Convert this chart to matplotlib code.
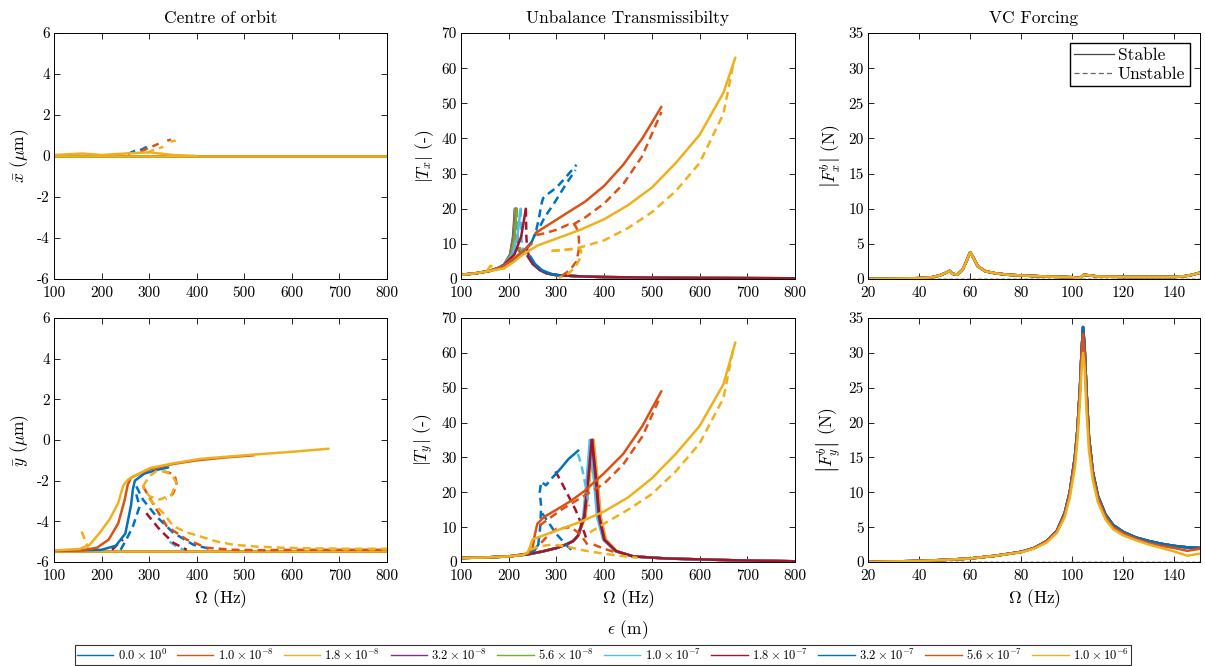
import matplotlib
matplotlib.use('Agg')
import matplotlib.pyplot as plt
from matplotlib.lines import Line2D

plt.rcParams['font.family'] = 'serif'
plt.rcParams['font.serif'] = ['cmr10']
plt.rcParams['mathtext.fontset'] = 'cm'
plt.rcParams['axes.unicode_minus'] = False

# unbalance eccentricity values and the MATLAB default colour order
eps_labels = [r'$0.0\times10^{0}$', r'$1.0\times10^{-8}$', r'$1.8\times10^{-8}$',
              r'$3.2\times10^{-8}$', r'$5.6\times10^{-8}$', r'$1.0\times10^{-7}$',
              r'$1.8\times10^{-7}$', r'$3.2\times10^{-7}$', r'$5.6\times10^{-7}$',
              r'$1.0\times10^{-6}$']
colours = ['#0072BD', '#D95319', '#EDB120', '#7E2F8E', '#77AC30',
           '#4DBEEE', '#A2142F', '#0072BD', '#D95319', '#EDB120']

# ---- centre of orbit, x ----
xb_base_f = [100, 800]
xb_base_v = [0.0, 0.0]
xb9_s_f = [100, 160, 200, 250, 300, 350, 400]
xb9_s_v = [0.05, 0.12, 0.05, 0.12, 0.18, 0.05, 0.0]
xb7_d_f = [255, 270, 285, 295]
xb7_d_v = [0.1, 0.25, 0.32, 0.45]
xb8_d_f = [282, 290, 305, 320]
xb8_d_v = [0.2, 0.3, 0.45, 0.6]
xb8_d2_f = [338, 346]
xb8_d2_v = [0.75, 0.8]
xb9_d_f = [295, 310, 330]
xb9_d_v = [0.15, 0.3, 0.45]
xb9_d2_f = [345, 356]
xb9_d2_v = [0.7, 0.75]

# ---- centre of orbit, y ----
yb_base_f = [100, 800]
yb_base_v = [-5.45, -5.45]
yb9_s_f = [100, 154, 175, 196, 217, 235, 245, 250, 256, 266, 302, 350, 407, 502, 600, 677]
yb9_s_v = [-5.43, -5.36, -5.15, -4.57, -3.9, -3.1, -2.28, -2.1, -1.95, -1.8, -1.38,
           -1.15, -0.93, -0.75, -0.58, -0.43]
yb8_s_f = [100, 160, 190, 215, 235, 248, 255, 262, 300, 350, 400, 460, 520]
yb8_s_v = [-5.45, -5.42, -5.3, -4.9, -4.1, -3.0, -2.2, -1.85, -1.45, -1.18, -1.0, -0.86, -0.75]
yb7_s_f = [100, 200, 230, 250, 262, 266, 270, 290, 320, 340]
yb7_s_v = [-5.45, -5.4, -5.2, -4.6, -3.2, -2.4, -2.0, -1.65, -1.45, -1.35]
yb9_d_spike_f = [158, 165, 172]
yb9_d_spike_v = [-4.5, -4.9, -5.3]
yb9_d_loop_f = [287, 300, 315, 335, 350, 357, 347, 322, 301, 291, 287]
yb9_d_loop_v = [-2.28, -1.79, -1.54, -1.55, -1.79, -2.11, -2.69, -2.93, -2.77, -2.5, -2.28]
yb8_d_arc_f = [330, 344, 355, 358, 350, 335]
yb8_d_arc_v = [-1.55, -1.62, -1.85, -2.2, -2.65, -2.9]
yb9_d_f = [300, 330, 351, 380, 407, 440, 477, 530, 582, 650, 720, 800]
yb9_d_v = [-2.9, -3.6, -4.24, -4.55, -4.74, -4.98, -5.15, -5.25, -5.3, -5.33, -5.35, -5.35]
yb8_d_f = [287, 310, 337, 379, 421, 477, 540, 600, 800]
yb8_d_v = [-2.28, -3.2, -4.24, -4.9, -5.3, -5.4, -5.42, -5.4, -5.4]
yb7_d_f = [273, 287, 315, 351, 393, 435]
yb7_d_v = [-2.28, -2.93, -3.75, -4.57, -5.15, -5.4]
yb7_d2_f = [240, 252, 266, 280, 272]
yb7_d2_v = [-5.4, -4.9, -4.24, -3.26, -2.6]
yb6_d_f = [294, 322, 351, 379]
yb6_d_v = [-3.6, -4.4, -5.06, -5.4]
yb6_d2_f = [222, 235, 245]
yb6_d2_v = [-5.4, -5.1, -4.9]
yb5_d_f = [343, 355, 372]
yb5_d_v = [-5.0, -5.2, -5.4]

# ---- transmissibility, x ----
tx_base_f = [100, 130, 160, 180, 190]
tx_base_v = [1.2, 1.6, 2.3, 3.2, 4.0]
tx_rise_v = [4.0, 7.0, 12.0, 20.0]
tx_rise_f = [[190, 203, 209, 213], [190, 203, 210, 214], [190, 204, 211, 215],
             [190, 204, 211, 216], [190, 205, 212, 217], [190, 208, 218, 225],
             [190, 212, 226, 236]]
tx_drop_v = [20.0, 12.0, 8.0, 6.5]
tx_drop_f = [[213, 215, 221, 240], [214, 216, 222, 240], [215, 217, 223, 240],
             [216, 218, 224, 240], [217, 219, 225, 240], [225, 226, 230, 241],
             [236, 237, 239, 243]]
tx_tail_f = [240, 250, 265, 280, 300, 350, 400, 500, 600, 700, 800]
tx_tail_v = [6.5, 4.4, 2.6, 1.6, 1.1, 0.75, 0.55, 0.4, 0.3, 0.25, 0.2]
tx7_s_f = [100, 130, 160, 180, 190, 205, 220, 235, 248]
tx7_s_v = [1.2, 1.6, 2.3, 3.2, 4.0, 5.0, 6.5, 8.5, 10.5]
tx7_d_f = [248, 256, 263, 268, 272, 285, 300, 320, 342]
tx7_d_v = [10.5, 13, 17, 21, 23, 24.5, 26, 29, 32.5]
tx7_d2_f = [252, 262, 275, 295, 320, 340]
tx7_d2_v = [12, 14, 17.5, 21.5, 27, 31]
tx7_s2_f = [245, 255, 270, 290, 310]
tx7_s2_v = [6.5, 4.3, 2.5, 1.4, 1.0]
tx8_s_f = [100, 130, 160, 180, 190, 200, 215, 230, 248]
tx8_s_v = [1.2, 1.6, 2.3, 3.2, 3.8, 4.8, 6.3, 8, 10]
tx8_s2_f = [256, 270, 290, 320, 360, 400, 440, 480, 520]
tx8_s2_v = [13, 14.3, 16, 18.6, 22, 26.5, 32.5, 40, 49]
tx8_d_f = [258, 275, 300, 325, 338, 346, 348, 342, 328, 312, 300]
tx8_d_v = [12.5, 13, 14, 15.5, 15.5, 13.5, 9, 5, 2.5, 1, 0.3]
tx8_d2_f = [335, 360, 400, 440, 480, 520]
tx8_d2_v = [15.5, 17.5, 21.5, 27, 35, 47.5]
tx9_s_f = [100, 130, 160, 190, 210, 230, 260, 300, 350, 400, 450, 500, 550, 600, 650, 675]
tx9_s_v = [1.2, 1.6, 2.3, 3.0, 4.8, 7, 9.5, 11.5, 14, 17, 21, 26, 33, 41, 53, 63]
tx9_d0_f = [155, 162, 170]
tx9_d0_v = [2.4, 3.8, 3.0]
tx9_d_f = [290, 320, 350, 400, 450, 500, 550, 600, 650, 672]
tx9_d_v = [8, 8.3, 9, 11, 14.5, 19, 25, 33, 47, 62]
tx9_d2_f = [290, 310, 335, 348, 352, 350, 340, 325, 305]
tx9_d2_v = [8, 8.2, 8.5, 8.8, 8, 6, 3.5, 1.5, 0.3]

# ---- transmissibility, y ----
ty_base_f = [100, 150, 200, 240, 270, 300, 320, 335, 345]
ty_base_v = [1.15, 1.3, 1.6, 2.2, 3.0, 4.0, 5.0, 6.0, 7.5]
ty_rise_v = [7.5, 13.0, 23.0, 35.0]
ty_rise_f = [[345, 360, 367, 376], [345, 360, 368, 377], [345, 361, 369, 378],
             [345, 359, 366, 375], [345, 357, 364, 372], [345, 356, 363, 370],
             [345, 358, 366, 374]]
ty_fall_v = [35.0, 23.0, 13.0, 6.4, 3.1, 1.6, 1.0, 0.5, 0.2]
ty_fall_f = [[376, 385, 391, 402, 426, 461, 531, 671, 800],
             [377, 386, 392, 403, 426, 461, 531, 671, 800],
             [378, 387, 393, 404, 427, 461, 531, 671, 800],
             [375, 384, 390, 401, 425, 461, 531, 671, 800],
             [372, 381, 387, 399, 424, 461, 531, 671, 800],
             [370, 379, 385, 398, 423, 461, 531, 671, 800],
             [374, 383, 389, 400, 425, 461, 531, 671, 800]]
ty7_s_f = [100, 150, 200, 240, 255, 262]
ty7_s_v = [1.15, 1.3, 1.6, 2.4, 3.5, 5]
ty7_d_f = [262, 266, 268, 265, 268, 278, 290, 297]
ty7_d_v = [5, 10, 16, 20, 23, 22, 24, 25]
ty7_s2_f = [297, 310, 325, 346]
ty7_s2_v = [25, 27, 29.5, 32]
ty7_d2_f = [270, 285, 300, 320, 335]
ty7_d2_v = [14, 11, 8, 5, 3]
ty6_d_f = [298, 310, 325, 340, 352, 362]
ty6_d_v = [26, 23, 19, 15, 11, 7]
ty5_d_f = [345, 352, 358, 364, 368]
ty5_d_v = [31, 28, 24, 20, 16]
ty8_s_f = [100, 150, 200, 240, 250, 255, 260, 275, 300, 330, 360, 400, 440, 480, 520]
ty8_s_v = [1.15, 1.3, 1.6, 2.4, 4, 8, 11, 13, 15, 17.5, 20.5, 25.5, 31, 39, 49]
ty8_d_f = [265, 285, 310, 340, 370, 400, 440, 480, 518]
ty8_d_v = [10.5, 12.5, 15, 17.5, 20, 22.5, 28, 36, 47.5]
ty8_d2_f = [268, 285, 300, 330, 350, 365]
ty8_d2_v = [5.5, 8, 9.5, 10, 8, 5]
ty8_d3_f = [378, 400, 430]
ty8_d3_v = [5, 3.8, 2.5]
ty9_s_f = [100, 150, 200, 230, 240, 245, 250, 300, 350, 400, 450, 500, 550, 600, 650, 675]
ty9_s_v = [1.15, 1.3, 1.6, 2.0, 2.8, 4.5, 6.5, 9, 11.5, 14.5, 18.5, 24, 31, 39, 51, 63]
ty9_d_f = [370, 400, 450, 500, 550, 600, 650, 672]
ty9_d_v = [8.5, 11, 15, 19.5, 26, 34, 47, 62]
ty9_d2_f = [245, 265, 290, 320, 350, 380, 420, 470]
ty9_d2_v = [3.5, 4.5, 5, 4.5, 3.5, 2.8, 2, 1.2]

# ---- VC forcing ----
fx_f = [20, 30, 40, 45, 48, 50, 52, 53, 55, 57, 58.5, 60, 61.5, 63, 66, 70, 75, 80, 90,
        100, 103, 104.5, 107, 110, 120, 130, 140, 144, 147, 150]
fx_v = [0, 0.05, 0.12, 0.25, 0.5, 0.8, 1.15, 0.75, 0.6, 1.3, 2.5, 3.8, 2.9, 1.8, 1.1,
        0.8, 0.6, 0.5, 0.35, 0.25, 0.1, 0.6, 0.5, 0.35, 0.3, 0.3, 0.3, 0.4, 0.6, 0.9]
fy_f = [20, 30, 40, 50, 60, 70, 80, 85, 90, 94, 97, 99, 101, 102, 103, 103.6, 104.2,
        104.8, 105.5, 106.5, 108, 110, 113, 116, 120, 125, 130, 135, 140, 145, 150]
fy_v_blue = [0, 0.08, 0.15, 0.3, 0.5, 0.9, 1.45, 2.0, 3.0, 4.5, 7, 10, 15, 19, 25, 30,
             33.7, 31, 25, 18, 13, 9.5, 6.8, 5.3, 4.3, 3.5, 3.0, 2.6, 2.3, 2.1, 2.0]
fy_v_orange = [0, 0.08, 0.15, 0.3, 0.5, 0.9, 1.45, 2.0, 3.0, 4.4, 6.8, 9.8, 14.5, 18.5,
               24.5, 29.5, 32.7, 30, 24, 17.5, 12.6, 9.2, 6.5, 5.0, 4.1, 3.3, 2.7, 2.3,
               2.0, 1.6, 1.9]
fy_v_yellow = [0, 0.08, 0.15, 0.3, 0.5, 0.9, 1.4, 1.9, 2.8, 4.2, 6.4, 9.2, 13.5, 17.5,
               23, 27.5, 30, 28, 22, 16, 11.8, 8.6, 6.1, 4.7, 3.8, 3.1, 2.5, 2.0, 1.5,
               0.9, 1.2]

W, H = 1205, 666
fig = plt.figure(figsize=(W / 100, H / 100), dpi=100)


def px_axes(left, right, top, bottom):
    return fig.add_axes([left / W, 1 - bottom / H, (right - left) / W, (bottom - top) / H])


LW = 1.8
DASH = (0, (3.2, 2.0))


def line(ax, f, v, i, dashed=False):
    ax.plot(f, v, color=colours[i], lw=LW, ls=DASH if dashed else '-',
            solid_capstyle='round', dash_capstyle='butt')


ax_xb = px_axes(54, 387, 33, 279)
ax_tx = px_axes(461, 795, 33, 279)
ax_fx = px_axes(868, 1200, 33, 279)
ax_yb = px_axes(54, 387, 318, 562)
ax_ty = px_axes(461, 795, 318, 562)
ax_fy = px_axes(868, 1200, 318, 562)

# centre of orbit
for i in range(10):
    line(ax_xb, xb_base_f, xb_base_v, i)
    line(ax_yb, yb_base_f, yb_base_v, i)
line(ax_xb, xb7_d_f, xb7_d_v, 7, True)
line(ax_xb, xb8_d_f, xb8_d_v, 8, True)
line(ax_xb, xb8_d2_f, xb8_d2_v, 8, True)
line(ax_xb, xb9_s_f, xb9_s_v, 9)
line(ax_xb, xb9_d_f, xb9_d_v, 9, True)
line(ax_xb, xb9_d2_f, xb9_d2_v, 9, True)

line(ax_yb, yb5_d_f, yb5_d_v, 5, True)
line(ax_yb, yb6_d_f, yb6_d_v, 6, True)
line(ax_yb, yb6_d2_f, yb6_d2_v, 6, True)
line(ax_yb, yb7_s_f, yb7_s_v, 7)
line(ax_yb, yb7_d_f, yb7_d_v, 7, True)
line(ax_yb, yb7_d2_f, yb7_d2_v, 7, True)
line(ax_yb, yb8_s_f, yb8_s_v, 8)
line(ax_yb, yb8_d_f, yb8_d_v, 8, True)
line(ax_yb, yb8_d_arc_f, yb8_d_arc_v, 8, True)
line(ax_yb, yb9_s_f, yb9_s_v, 9)
line(ax_yb, yb9_d_f, yb9_d_v, 9, True)
line(ax_yb, yb9_d_loop_f, yb9_d_loop_v, 9, True)
line(ax_yb, yb9_d_spike_f, yb9_d_spike_v, 9, True)

# transmissibility
for i in range(7):
    line(ax_tx, tx_base_f + tx_rise_f[i][1:], tx_base_v + tx_rise_v[1:], i)
    line(ax_tx, tx_drop_f[i], tx_drop_v, i, True)
    line(ax_tx, tx_tail_f, tx_tail_v, i)
    line(ax_ty, ty_base_f + ty_rise_f[i][1:], ty_base_v + ty_rise_v[1:], i)
    line(ax_ty, ty_fall_f[i], ty_fall_v, i)
line(ax_tx, tx7_s_f, tx7_s_v, 7)
line(ax_tx, tx7_s2_f, tx7_s2_v, 7)
line(ax_tx, tx7_d_f, tx7_d_v, 7, True)
line(ax_tx, tx7_d2_f, tx7_d2_v, 7, True)
line(ax_tx, tx8_s_f, tx8_s_v, 8)
line(ax_tx, tx8_s2_f, tx8_s2_v, 8)
line(ax_tx, tx8_d_f, tx8_d_v, 8, True)
line(ax_tx, tx8_d2_f, tx8_d2_v, 8, True)
line(ax_tx, tx9_s_f, tx9_s_v, 9)
line(ax_tx, tx9_d0_f, tx9_d0_v, 9, True)
line(ax_tx, tx9_d_f, tx9_d_v, 9, True)
line(ax_tx, tx9_d2_f, tx9_d2_v, 9, True)

line(ax_ty, ty5_d_f, ty5_d_v, 5, True)
line(ax_ty, ty6_d_f, ty6_d_v, 6, True)
line(ax_ty, ty7_s_f, ty7_s_v, 7)
line(ax_ty, ty7_s2_f, ty7_s2_v, 7)
line(ax_ty, ty7_d_f, ty7_d_v, 7, True)
line(ax_ty, ty7_d2_f, ty7_d2_v, 7, True)
line(ax_ty, ty8_s_f, ty8_s_v, 8)
line(ax_ty, ty8_d_f, ty8_d_v, 8, True)
line(ax_ty, ty8_d2_f, ty8_d2_v, 8, True)
line(ax_ty, ty8_d3_f, ty8_d3_v, 8, True)
line(ax_ty, ty9_s_f, ty9_s_v, 9)
line(ax_ty, ty9_d_f, ty9_d_v, 9, True)
line(ax_ty, ty9_d2_f, ty9_d2_v, 9, True)

# VC forcing
for i in range(10):
    ax_fx.plot([20, 150], [0, 0], color=colours[i], lw=0.8, ls=DASH)
    ax_fy.plot([20, 150], [0, 0], color=colours[i], lw=0.8, ls=DASH)
    line(ax_fx, fx_f, fx_v, i)
for i in range(8):
    line(ax_fy, fy_f, fy_v_blue, i)
line(ax_fy, fy_f, fy_v_orange, 8)
line(ax_fy, fy_f, fy_v_yellow, 9)

# axes styling
for ax in [ax_xb, ax_tx, ax_yb, ax_ty]:
    ax.set_xlim(100, 800)
    ax.set_xticks(range(100, 801, 100))
for ax in [ax_xb, ax_yb]:
    ax.set_ylim(-6, 6)
    ax.set_yticks(range(-6, 7, 2))
for ax in [ax_tx, ax_ty]:
    ax.set_ylim(0, 70)
    ax.set_yticks(range(0, 71, 10))
for ax in [ax_fx, ax_fy]:
    ax.set_xlim(20, 150)
    ax.set_xticks(range(20, 141, 20))
    ax.set_ylim(0, 35)
    ax.set_yticks(range(0, 36, 5))
for ax in [ax_xb, ax_tx, ax_fx, ax_yb, ax_ty, ax_fy]:
    ax.tick_params(direction='in', top=True, right=True, length=4, width=0.6,
                   labelsize=11)
    ax.tick_params(axis='x', pad=5)
    ax.tick_params(axis='y', pad=3)
    for s in ax.spines.values():
        s.set_linewidth(0.7)

ax_xb.set_title('Centre of orbit', fontsize=12.5, pad=7)
ax_tx.set_title('Unbalance Transmissibilty', fontsize=12.5, pad=7)
ax_fx.set_title('VC Forcing', fontsize=12.5, pad=7)
ax_xb.set_ylabel(r'$\bar{x}$ ($\mu$m)', fontsize=12.5)
ax_yb.set_ylabel(r'$\bar{y}$ ($\mu$m)', fontsize=12.5)
ax_tx.set_ylabel(r'$|T_x|$ (-)', fontsize=12.5)
ax_ty.set_ylabel(r'$|T_y|$ (-)', fontsize=12.5)
ax_fx.set_ylabel(r'$\left|F^b_x\right|$ (N)', fontsize=12.5)
ax_fy.set_ylabel(r'$\left|F^b_y\right|$ (N)', fontsize=12.5)
for ax in [ax_yb, ax_ty, ax_fy]:
    ax.set_xlabel(r'$\Omega$ (Hz)', fontsize=12.5, labelpad=3)

stab = [Line2D([], [], color='#444444', lw=0.9),
        Line2D([], [], color='#666666', lw=0.9, ls=(0, (4, 2.5)))]
ax_fx.legend(stab, ['Stable', 'Unstable'], loc='upper right', fontsize=12.5,
             frameon=True, fancybox=False, edgecolor='black', framealpha=1,
             handlelength=2.3, handletextpad=0.2, borderpad=0.25, labelspacing=0.2,
             borderaxespad=0.6)

fig.text(628 / W, 1 - 630 / H, r'$\epsilon$ (m)', ha='center', va='center', fontsize=12.5)
handles = [Line2D([], [], color=c, lw=1.0) for c in colours]
leg = fig.legend(handles, eps_labels, loc='center', bbox_to_anchor=(603 / W, 1 - 655 / H),
                 ncol=10, fontsize=9, frameon=True, fancybox=False, edgecolor='black',
                 handlelength=2.9, handletextpad=0.35, columnspacing=0.82, borderpad=0.2)
leg.get_frame().set_linewidth(0.8)

fig.savefig('out.png', dpi=100)
